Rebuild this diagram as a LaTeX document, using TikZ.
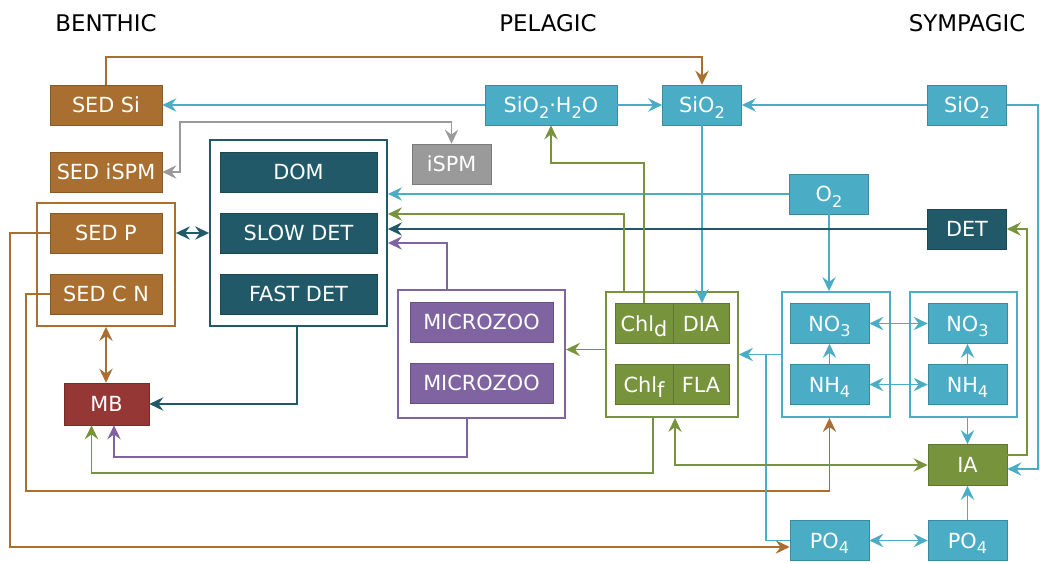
\documentclass[tikz,border=0pt]{standalone}
\usepackage{fontspec}
\setmainfont{DejaVu Sans}
\usetikzlibrary{arrows.meta}

\definecolor{sedbrown}{HTML}{A86F31}
\definecolor{nutblue}{HTML}{4BACC6}
\definecolor{detteal}{HTML}{215968}
\definecolor{zoopurple}{HTML}{8064A2}
\definecolor{phygreen}{HTML}{77933C}
\definecolor{mbred}{HTML}{953735}
\definecolor{spmgrey}{HTML}{9A9A9A}

\newcommand{\boxfont}{\fontsize{14.8}{16}\selectfont}
\newcommand{\lowsub}[1]{\raisebox{-0.5ex}[0pt][0pt]{\fontsize{11.5}{12}\selectfont #1}}

\begin{document}
\begin{tikzpicture}[x=0.025cm, y=-0.025cm, line width=1.3pt,
		>={Stealth[length=10pt,width=9.5pt,inset=3.5pt]},
		pool/.style={fill=#1, draw=#1!80!black, line width=0.4pt, text=white,
			inner sep=0pt, minimum height=1cm, font=\boxfont},
		grp/.style={draw=#1, line width=1.3pt, inner sep=0pt},
		head/.style={font=\fontsize{16.3}{18}\selectfont, text=black}]
		\useasboundingbox (0,0) rectangle (1040,564);

		\node[head] (benthic) at (106,23) {BENTHIC};
		\node[head] (pelagic) at (548,23) {PELAGIC};
		\node[head] (sympagic) at (967,23) {SYMPAGIC};

		% benthic
		\node[pool=sedbrown, minimum width=2.8cm] (sedsi) at (106,105) {SED Si};
		\node[pool=sedbrown, minimum width=2.8cm] (sedispm) at (106,172) {SED iSPM};
		\node[grp=sedbrown, minimum width=3.45cm, minimum height=3.075cm] (sedgrp) at (106,264.5) {};
		\node[pool=sedbrown, minimum width=2.8cm] (sedp) at (106,233) {SED P};
		\node[pool=sedbrown, minimum width=2.8cm] (sedcn) at (106,294) {SED C N};
		\node[pool=mbred, minimum width=2.125cm, minimum height=1.05cm] (mb) at (106.5,404) {MB};

		% pelagic
		\node[grp=detteal, minimum width=4.425cm, minimum height=4.65cm] (detgrp) at (298.5,233) {};
		\node[pool=detteal, minimum width=3.925cm] (dom) at (298.5,172) {DOM};
		\node[pool=detteal, minimum width=3.925cm] (slowdet) at (298.5,233) {SLOW DET};
		\node[pool=detteal, minimum width=3.925cm] (fastdet) at (298.5,294) {FAST DET};

		\node[pool=spmgrey, minimum width=1.975cm] (ispm) at (451.5,164) {iSPM};
		\node[pool=nutblue, minimum width=3.3cm] (sio2h2o) at (551,105) {SiO\lowsub{2}·H\lowsub{2}O};
		\node[pool=nutblue, minimum width=1.975cm] (sio2p) at (702,105) {SiO\lowsub{2}};
		\node[pool=nutblue, minimum width=1.975cm] (o2) at (829,194) {O\lowsub{2}};

		\node[grp=zoopurple, minimum width=4.175cm, minimum height=3.2cm] (zoogrp) at (481.5,354) {};
		\node[pool=zoopurple, minimum width=3.575cm] (zoo1) at (481.5,322) {MICROZOO};
		\node[pool=zoopurple, minimum width=3.575cm] (zoo2) at (481.5,383) {MICROZOO};

		\node[grp=phygreen, minimum width=3.3cm, minimum height=3.125cm] (phygrp) at (672,354.5) {};
		\node[pool=phygreen, minimum width=1.45cm] (chld) at (644,323.5) {Chl\lowsub{\boxfont d}};
		\node[pool=phygreen, minimum width=1.4cm] (dia) at (701,323.5) {DIA};
		\node[pool=phygreen, minimum width=1.45cm] (chlf) at (644,384.5) {Chl\lowsub{\boxfont f}};
		\node[pool=phygreen, minimum width=1.4cm] (fla) at (701,384.5) {FLA};

		\node[grp=nutblue, minimum width=2.7cm, minimum height=3.125cm] (no3grp) at (836,354.5) {};
		\node[pool=nutblue, minimum width=1.975cm] (no3p) at (829.5,323.5) {NO\lowsub{3}};
		\node[pool=nutblue, minimum width=1.975cm] (nh4p) at (829.5,384.5) {NH\lowsub{4}};
		\node[pool=nutblue, minimum width=1.975cm] (po4p) at (829.5,540.5) {PO\lowsub{4}};

		% sympagic
		\node[pool=nutblue, minimum width=1.975cm] (sio2s) at (967,105) {SiO\lowsub{2}};
		\node[pool=detteal, minimum width=1.975cm] (dets) at (967,229) {DET};
		\node[grp=nutblue, minimum width=2.675cm, minimum height=3.125cm] (no3sgrp) at (963.5,354.5) {};
		\node[pool=nutblue, minimum width=1.975cm] (no3s) at (967.5,323.5) {NO\lowsub{3}};
		\node[pool=nutblue, minimum width=1.975cm] (nh4s) at (967.5,384.5) {NH\lowsub{4}};
		\node[pool=phygreen, minimum width=1.975cm, minimum height=1.025cm] (ia) at (967.5,465) {IA};
		\node[pool=nutblue, minimum width=1.975cm] (po4s) at (967.5,540.5) {PO\lowsub{4}};

		% brown
		\draw[->, sedbrown] (sedsi.north) -- ++(0,-28) -| (sio2p.north);
		\draw[->, sedbrown] (sedp.west) -- ++(-40,0) |- ([yshift=-0.1625cm]po4p.west);
		\draw[->, sedbrown] (sedcn.west) -- ++(-24,0) -- ++(0,197) -| (nh4p.south |- no3grp.south);
		\draw[<->, sedbrown] (sedgrp.south) -- (sedgrp.south |- mb.north);

		% grey
		\draw[<->, spmgrey] (sedispm.east) -- ++(18,0) -- ++(0,-50) -| (ispm.north);

		% blue
		\draw[->, nutblue] (sio2h2o.west) -- (sedsi.east);
		\draw[->, nutblue] (sio2h2o.east) -- (sio2p.west);
		\draw[->, nutblue] (sio2s.west) -- (sio2p.east);
		\draw[->, nutblue] (sio2s.east) -- ++(31,0) |- ([yshift=-0.1cm]ia.east);
		\draw[->, nutblue] (sio2p.south) -- (sio2p.south |- dia.north);
		\draw[->, nutblue] (o2.west) -- (o2.west -| detgrp.east);
		\draw[->, nutblue] (o2.south) -- (o2.south |- no3grp.north);
		\draw[->, nutblue] (no3grp.west) -- (no3grp.west -| phygrp.east);
		\draw[nutblue] (po4p.west) -| ([xshift=-0.375cm]no3grp.west);
		\draw[<->, nutblue] (no3p.east) -- (no3s.west);
		\draw[<->, nutblue] (nh4p.east) -- (nh4s.west);
		\draw[->, nutblue] (nh4p.north) -- (no3p.south);
		\draw[->, nutblue] (nh4s.north) -- (no3s.south);
		\draw[->, nutblue] (ia.north |- no3sgrp.south) -- (ia.north);
		\draw[->, nutblue] (po4s.north) -- (ia.south);
		\draw[<->, nutblue] (po4p.east) -- (po4s.west);

		% teal
		\draw[->, detteal] (dets.west) -- (dets.west -| detgrp.east);
		\draw[<->, detteal] (sedp.east -| sedgrp.east) -- (sedp.east -| detgrp.west);
		\draw[->, detteal] ([xshift=-0.0375cm]detgrp.south) |- (mb.east);

		% purple
		\draw[->, zoopurple] ([xshift=-0.8625cm]zoogrp.north) |- ([yshift=-0.25cm]detgrp.east);
		\draw[->, zoopurple] ([xshift=-0.3625cm]zoogrp.south) -- ++(0,38) -| ([xshift=0.1875cm]mb.south);

		% green
		\draw[->, phygreen] ([xshift=-1.2cm]phygrp.north) |- ([yshift=0.475cm]detgrp.east);
		\draw[->, phygreen] (chld.north) -- ++(0,-140.5) -| (sio2h2o.south);
		\draw[->, phygreen] ([yshift=0.125cm]phygrp.west) -- ([yshift=0.125cm]phygrp.west -| zoogrp.east);
		\draw[->, phygreen] ([xshift=-0.475cm]phygrp.south) -- ++(0,55) -| ([xshift=-0.375cm]mb.south);
		\draw[<->, phygreen] ([xshift=0.075cm]phygrp.south) |- (ia.west);
		\draw[->, phygreen] ([yshift=0.25cm]ia.east) -- ++(20,0) |- (dets.east);
\end{tikzpicture}
\end{document}
